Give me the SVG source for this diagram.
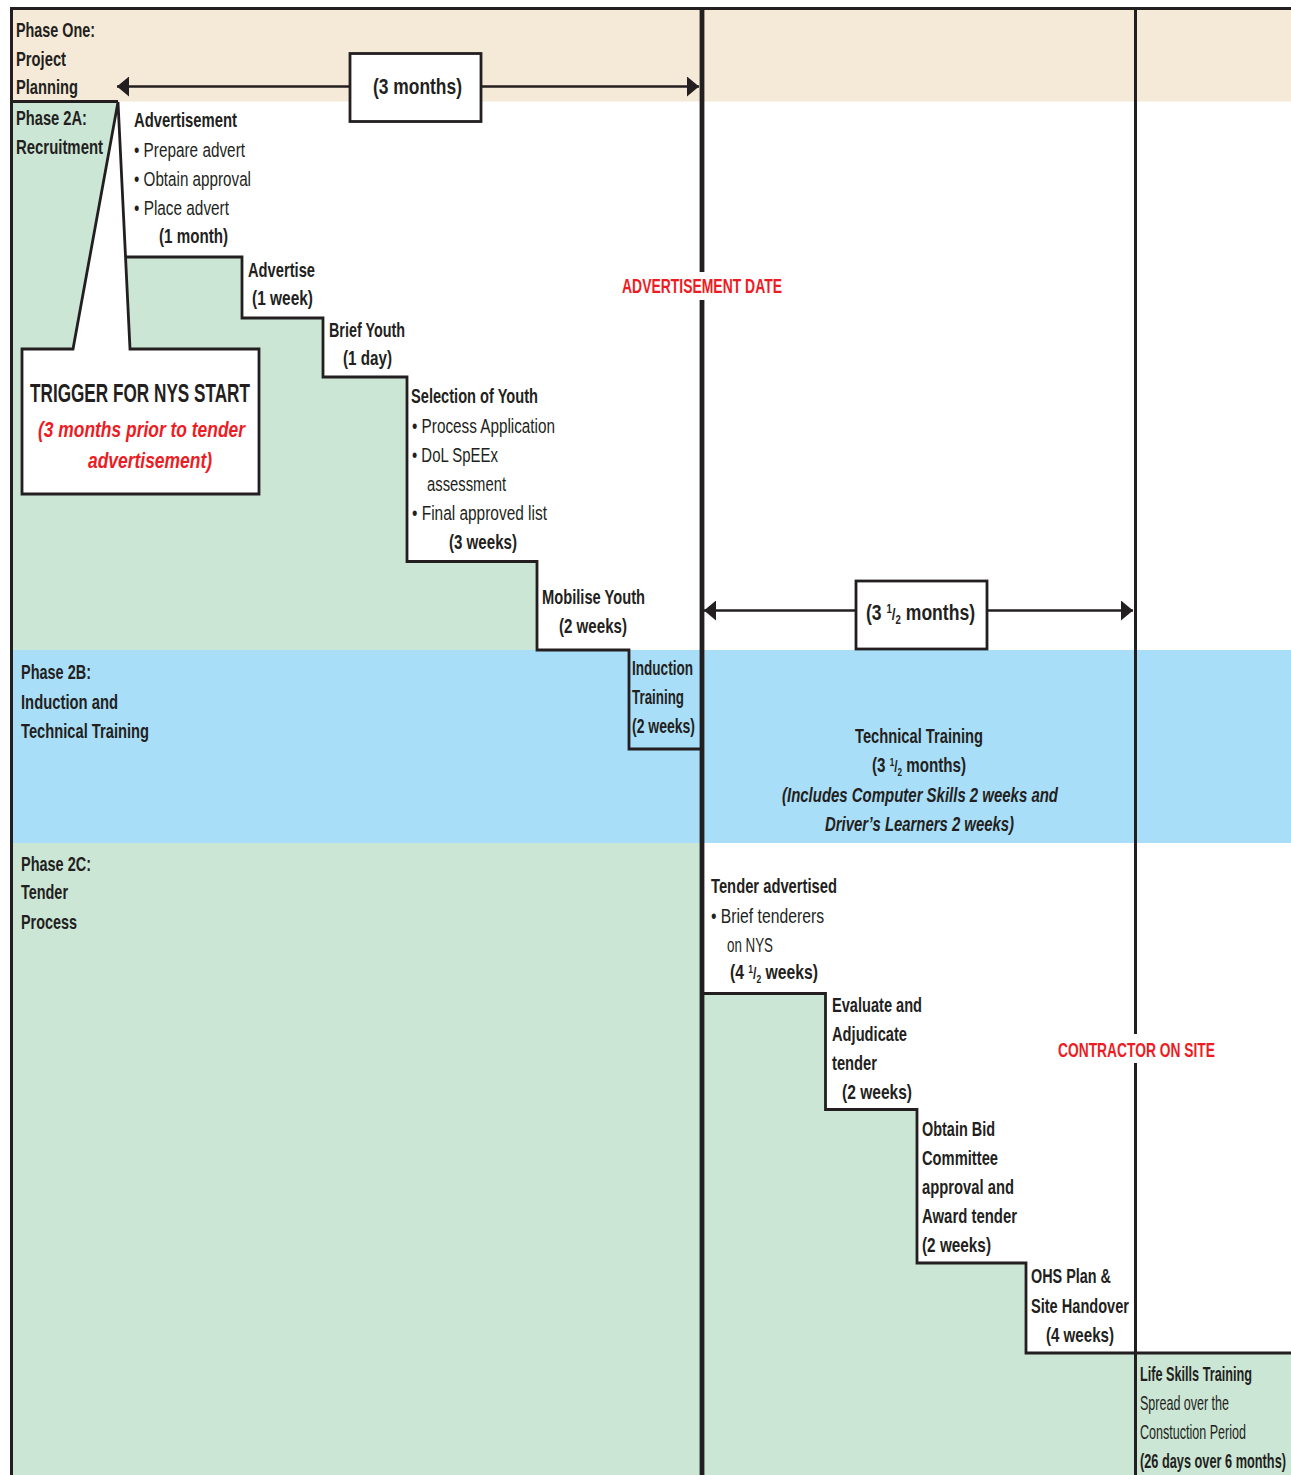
<svg xmlns="http://www.w3.org/2000/svg" width="1291" height="1475" viewBox="0 0 1291 1475">
<style>
.t{font-family:"Liberation Sans Narrow","Liberation Sans",Arial,sans-serif;font-size:20.5px;font-weight:700;fill:#231F20}
.n{font-weight:400}
.i{font-style:italic}
.red{fill:#ED1C24}
.ln{fill:none;stroke:#231F20;stroke-width:2.8}
.w3{stroke-width:3}
.w45{stroke-width:4.8}
.w26{stroke-width:2.6}
.box{fill:#FFFFFF;stroke:#231F20;stroke-width:2.8}
</style>
<defs>
<marker id="ah" viewBox="0 0 12 20" refX="12" refY="10" markerWidth="12" markerHeight="20" markerUnits="userSpaceOnUse" orient="auto-start-reverse">
<path d="M0,0 L12,10 L0,20 Z" fill="#231F20"/>
</marker>
</defs>

<g id="background">
<rect x="0" y="0" width="1291" height="1475" fill="#FFFFFF"/>
<rect x="12" y="8" width="1279" height="93.5" fill="#F5EAD7"/>
<polygon points="12,101.5 118,101.5 125.5,257 242,257 242,318 323,318 323,377 407,377 407,561.5 537,561.5 537,650 12,650" fill="#CBE6D5"/>
<rect x="12" y="650" width="1279" height="193" fill="#A8DEF8"/>
<polygon points="12,843 702,843 702,993.5 825.5,993.5 825.5,1109.5 917,1109.5 917,1263 1026,1263 1026,1353 1291,1353 1291,1475 12,1475" fill="#CBE6D5"/>
</g>

<g id="connectors">
<path class="ln w3" d="M10,8.5 H1291 M11.5,7.5 V1475"/>
<path class="ln" d="M12,101.5 H118"/>
<path class="ln" d="M125.5,257 H242 V318 H323 V377 H407 V561.5 H537 V650 H629 V749 H702"/>
<path class="ln" d="M702,993.5 H825.5 V1109.5 H917 V1263 H1026 V1353 H1291"/>
<path class="ln w45" d="M702,8 V272 M702,300 V1475"/>
<path class="ln w3" d="M1135.5,8 V1034 M1135.5,1063 V1475"/>
<path class="ln w26" d="M117,86.5 H699" marker-start="url(#ah)" marker-end="url(#ah)"/>
<path class="ln w26" d="M704,610.5 H1133" marker-start="url(#ah)" marker-end="url(#ah)"/>
</g>

<g id="phase-one">
<text class="t" x="16" y="37" textLength="79" lengthAdjust="spacingAndGlyphs">Phase One:</text>
<text class="t" x="16" y="66" textLength="50" lengthAdjust="spacingAndGlyphs">Project</text>
<text class="t" x="16" y="94" textLength="62" lengthAdjust="spacingAndGlyphs">Planning</text>
</g>

<g id="duration-3-months">
<rect class="box" x="350" y="53.5" width="131" height="68"/>
<text class="t" x="373" y="94" style="font-size:22px" textLength="89" lengthAdjust="spacingAndGlyphs">(3 months)</text>
</g>

<g id="phase-2a">
<text class="t" x="16" y="125" textLength="71" lengthAdjust="spacingAndGlyphs">Phase 2A:</text>
<text class="t" x="16" y="154" textLength="87" lengthAdjust="spacingAndGlyphs">Recruitment</text>
</g>

<g id="trigger">
<path class="box" d="M22,349 H73 L118,102 L130,349 H259 V494 H22 Z"/>
<text class="t" x="30" y="402" style="font-size:25.5px" textLength="220" lengthAdjust="spacingAndGlyphs">TRIGGER FOR NYS START</text>
<text class="t i red" x="38" y="437" style="font-size:22px" textLength="207" lengthAdjust="spacingAndGlyphs">(3 months prior to tender</text>
<text class="t i red" x="88" y="468" style="font-size:22px" textLength="124" lengthAdjust="spacingAndGlyphs">advertisement)</text>
</g>

<g id="advertisement">
<text class="t" x="134" y="127" textLength="103" lengthAdjust="spacingAndGlyphs">Advertisement</text>
<text class="t n" x="134" y="157" textLength="111" lengthAdjust="spacingAndGlyphs">•  Prepare advert</text>
<text class="t n" x="134" y="186" textLength="117" lengthAdjust="spacingAndGlyphs">•  Obtain approval</text>
<text class="t n" x="134" y="215" textLength="95" lengthAdjust="spacingAndGlyphs">•  Place advert</text>
<text class="t" x="159" y="243" textLength="69" lengthAdjust="spacingAndGlyphs">(1 month)</text>
</g>

<g id="advertise">
<text class="t" x="248" y="277" textLength="67" lengthAdjust="spacingAndGlyphs">Advertise</text>
<text class="t" x="252" y="305" textLength="61" lengthAdjust="spacingAndGlyphs">(1 week)</text>
</g>

<g id="brief-youth">
<text class="t" x="329" y="337" textLength="76" lengthAdjust="spacingAndGlyphs">Brief Youth</text>
<text class="t" x="343" y="365" textLength="49" lengthAdjust="spacingAndGlyphs">(1 day)</text>
</g>

<g id="selection-of-youth">
<text class="t" x="411" y="403" textLength="127" lengthAdjust="spacingAndGlyphs">Selection of Youth</text>
<text class="t n" x="412" y="433" textLength="143" lengthAdjust="spacingAndGlyphs">•  Process Application</text>
<text class="t n" x="412" y="462" textLength="86" lengthAdjust="spacingAndGlyphs">•  DoL SpEEx</text>
<text class="t n" x="427" y="491" textLength="79" lengthAdjust="spacingAndGlyphs">assessment</text>
<text class="t n" x="412" y="520" textLength="135" lengthAdjust="spacingAndGlyphs">•  Final approved list</text>
<text class="t" x="449" y="549" textLength="68" lengthAdjust="spacingAndGlyphs">(3 weeks)</text>
</g>

<g id="mobilise-youth">
<text class="t" x="542" y="604" textLength="103" lengthAdjust="spacingAndGlyphs">Mobilise Youth</text>
<text class="t" x="559" y="633" textLength="68" lengthAdjust="spacingAndGlyphs">(2 weeks)</text>
</g>

<g id="advertisement-date">
<text class="t red" x="702" y="293" style="font-size:19.5px" text-anchor="middle" textLength="160" lengthAdjust="spacingAndGlyphs">ADVERTISEMENT DATE</text>
</g>

<g id="duration-3-half-months">
<rect class="box" x="856" y="581" width="131" height="68"/>
<text class="t" x="866" y="620" style="font-size:22px" textLength="109" lengthAdjust="spacingAndGlyphs">(3 <tspan font-size="12" dy="-7">1</tspan><tspan font-size="17" dy="7">/</tspan><tspan font-size="12" dy="4">2</tspan><tspan dy="-4"> months)</tspan></text>
</g>

<g id="phase-2b">
<text class="t" x="21" y="679" textLength="70" lengthAdjust="spacingAndGlyphs">Phase 2B:</text>
<text class="t" x="21" y="709" textLength="97" lengthAdjust="spacingAndGlyphs">Induction and</text>
<text class="t" x="21" y="738" textLength="128" lengthAdjust="spacingAndGlyphs">Technical Training</text>
</g>

<g id="induction-training">
<text class="t" x="632" y="675" textLength="61" lengthAdjust="spacingAndGlyphs">Induction</text>
<text class="t" x="632" y="704" textLength="52" lengthAdjust="spacingAndGlyphs">Training</text>
<text class="t" x="632" y="733" textLength="63" lengthAdjust="spacingAndGlyphs">(2 weeks)</text>
</g>

<g id="technical-training">
<text class="t" x="855" y="743" textLength="128" lengthAdjust="spacingAndGlyphs">Technical Training</text>
<text class="t" x="872" y="772" textLength="94" lengthAdjust="spacingAndGlyphs">(3 <tspan font-size="11" dy="-6">1</tspan><tspan font-size="16" dy="6">/</tspan><tspan font-size="11" dy="4">2</tspan><tspan dy="-4"> months)</tspan></text>
<text class="t i" x="782" y="802" textLength="276" lengthAdjust="spacingAndGlyphs">(Includes Computer Skills 2 weeks and</text>
<text class="t i" x="825" y="831" textLength="189" lengthAdjust="spacingAndGlyphs">Driver’s Learners 2 weeks)</text>
</g>

<g id="phase-2c">
<text class="t" x="21" y="871" textLength="70" lengthAdjust="spacingAndGlyphs">Phase 2C:</text>
<text class="t" x="21" y="899" textLength="47" lengthAdjust="spacingAndGlyphs">Tender</text>
<text class="t" x="21" y="929" textLength="56" lengthAdjust="spacingAndGlyphs">Process</text>
</g>

<g id="tender-advertised">
<text class="t" x="711" y="893" textLength="126" lengthAdjust="spacingAndGlyphs">Tender advertised</text>
<text class="t n" x="711" y="923" textLength="113" lengthAdjust="spacingAndGlyphs">•  Brief tenderers</text>
<text class="t n" x="727" y="952" textLength="46" lengthAdjust="spacingAndGlyphs">on NYS</text>
<text class="t" x="730" y="979" textLength="88" lengthAdjust="spacingAndGlyphs">(4 <tspan font-size="11" dy="-6">1</tspan><tspan font-size="16" dy="6">/</tspan><tspan font-size="11" dy="4">2</tspan><tspan dy="-4"> weeks)</tspan></text>
</g>

<g id="evaluate">
<text class="t" x="832" y="1012" textLength="90" lengthAdjust="spacingAndGlyphs">Evaluate and</text>
<text class="t" x="832" y="1041" textLength="75" lengthAdjust="spacingAndGlyphs">Adjudicate</text>
<text class="t" x="832" y="1070" textLength="45" lengthAdjust="spacingAndGlyphs">tender</text>
<text class="t" x="842" y="1099" textLength="70" lengthAdjust="spacingAndGlyphs">(2 weeks)</text>
</g>

<g id="obtain-bid">
<text class="t" x="922" y="1136" textLength="73" lengthAdjust="spacingAndGlyphs">Obtain Bid</text>
<text class="t" x="922" y="1165" textLength="76" lengthAdjust="spacingAndGlyphs">Committee</text>
<text class="t" x="922" y="1194" textLength="92" lengthAdjust="spacingAndGlyphs">approval and</text>
<text class="t" x="922" y="1223" textLength="95" lengthAdjust="spacingAndGlyphs">Award tender</text>
<text class="t" x="922" y="1252" textLength="69" lengthAdjust="spacingAndGlyphs">(2 weeks)</text>
</g>

<g id="ohs-plan">
<text class="t" x="1031" y="1283" textLength="80" lengthAdjust="spacingAndGlyphs">OHS Plan &amp;</text>
<text class="t" x="1031" y="1313" textLength="98" lengthAdjust="spacingAndGlyphs">Site Handover</text>
<text class="t" x="1046" y="1342" textLength="68" lengthAdjust="spacingAndGlyphs">(4 weeks)</text>
</g>

<g id="contractor-on-site">
<text class="t red" x="1136.5" y="1057" style="font-size:19.5px" text-anchor="middle" textLength="157" lengthAdjust="spacingAndGlyphs">CONTRACTOR ON SITE</text>
</g>

<g id="life-skills">
<text class="t" x="1140" y="1381" textLength="112" lengthAdjust="spacingAndGlyphs">Life Skills Training</text>
<text class="t n" x="1140" y="1410" textLength="89" lengthAdjust="spacingAndGlyphs">Spread over the</text>
<text class="t n" x="1140" y="1439" textLength="106" lengthAdjust="spacingAndGlyphs">Constuction Period</text>
<text class="t" x="1140" y="1468" textLength="146" lengthAdjust="spacingAndGlyphs">(26 days over 6 months)</text>
</g>
</svg>
